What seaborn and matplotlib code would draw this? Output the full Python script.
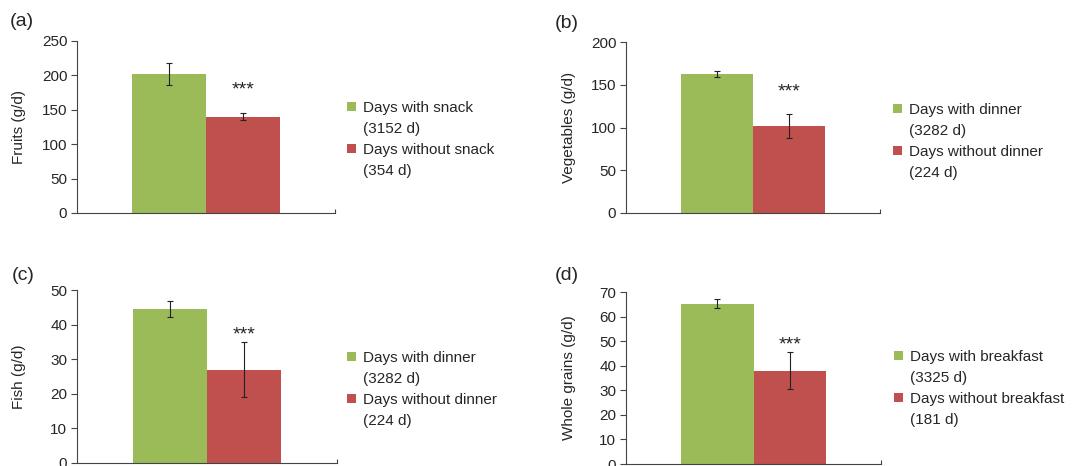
import numpy as np
import pandas as pd
import matplotlib
matplotlib.use("Agg")
import matplotlib.pyplot as plt
from matplotlib.patches import Rectangle
import seaborn as sns

# Data
panel_tags = ["(a)", "(b)", "(c)", "(d)"]
y_labels = ["Fruits (g/d)", "Vegetables (g/d)", "Fish (g/d)", "Whole grains (g/d)"]
with_labels = ["Days with snack", "Days with dinner", "Days with dinner", "Days with breakfast"]
without_labels = ["Days without snack", "Days without dinner", "Days without dinner",
                  "Days without breakfast"]
with_days = ["(3152 d)", "(3282 d)", "(3282 d)", "(3325 d)"]
without_days = ["(354 d)", "(224 d)", "(224 d)", "(181 d)"]
with_means = [202, 162, 44.5, 65.3]
without_means = [140, 102, 27, 38]
with_errs = [16, 3.5, 2.4, 1.7]
without_errs = [5.5, 14, 8, 7.6]
star_vals = [179, 141.5, 37, 48.5]
y_max = [250, 200, 50, 70]
y_step = [50, 50, 10, 10]

green = "#9BBB59"
red = "#C0504D"

sns.set_style("ticks")
plt.rcParams["font.family"] = ["Liberation Sans", "DejaVu Sans"]
plt.rcParams["font.size"] = 11

W, H = 1081, 466
fig = plt.figure(figsize=(W / 100, H / 100), dpi=100)

# axes boxes in pixels: left, top, right, bottom
boxes = [(77, 41, 335, 213), (626, 42, 880, 213), (77, 290, 337, 463), (626, 292, 881, 464)]
ylabel_x = [26, 576, 26, 576]
tag_pos = [(10, 22), (555, 24), (12, 275), (555, 275)]
leg_pos = [(347, 101), (893, 103), (347, 351), (894, 350)]

for i in range(4):
    l, t, r, b = boxes[i]
    ax = fig.add_axes([l / W, 1 - b / H, (r - l) / W, (b - t) / H])
    df = pd.DataFrame({
        "cat": ["", ""],
        "group": [with_labels[i], without_labels[i]],
        "value": [with_means[i], without_means[i]],
    })
    sns.barplot(data=df, x="cat", y="value", hue="group", palette=[green, red],
                width=0.57, errorbar=None, linewidth=0, saturation=1, ax=ax)
    centers = [p.get_x() + p.get_width() / 2 for p in ax.patches[:2]]
    ax.errorbar(centers, [with_means[i], without_means[i]],
                yerr=[with_errs[i], without_errs[i]], fmt="none",
                ecolor="#222222", elinewidth=0.8, capsize=2.5, capthick=0.8)
    ax.text(centers[1], star_vals[i], "***", ha="center", va="center", fontsize=14)

    ax.set_ylim(0, y_max[i])
    ax.set_yticks(np.arange(0, y_max[i] + 1, y_step[i]))
    ax.set_xlim(-0.5, 0.5)
    ax.set_xticks([0.5])
    ax.set_xticklabels([""])
    ax.tick_params(axis="x", direction="in", length=3, width=0.8, color="#444444")
    ax.tick_params(axis="y", length=4, width=0.8, color="#444444", labelsize=11, pad=3)
    ax.set_xlabel("")
    ax.set_ylabel(y_labels[i], fontsize=11)
    ax.yaxis.set_label_coords((ylabel_x[i] - l) / (r - l), 0.5)
    sns.despine(ax=ax)
    for s in ["left", "bottom"]:
        ax.spines[s].set_color("#444444")
        ax.spines[s].set_linewidth(0.8)

    handles, _ = ax.get_legend_handles_labels()
    blank = Rectangle((0, 0), 1, 1, facecolor="none", edgecolor="none")
    lx, ly = leg_pos[i]
    ax.legend([handles[0], blank, handles[1], blank],
              [with_labels[i], with_days[i], without_labels[i], without_days[i]],
              loc="upper left", bbox_to_anchor=(lx / W, 1 - ly / H),
              bbox_transform=fig.transFigure, frameon=False, borderpad=0,
              borderaxespad=0, handlelength=0.6, handleheight=0.6,
              handletextpad=0.45, labelspacing=0.45, fontsize=11)

    tx, ty = tag_pos[i]
    fig.text(tx / W, 1 - ty / H, panel_tags[i], fontsize=14, va="center", ha="left")

fig.savefig("out.png", dpi=100)
